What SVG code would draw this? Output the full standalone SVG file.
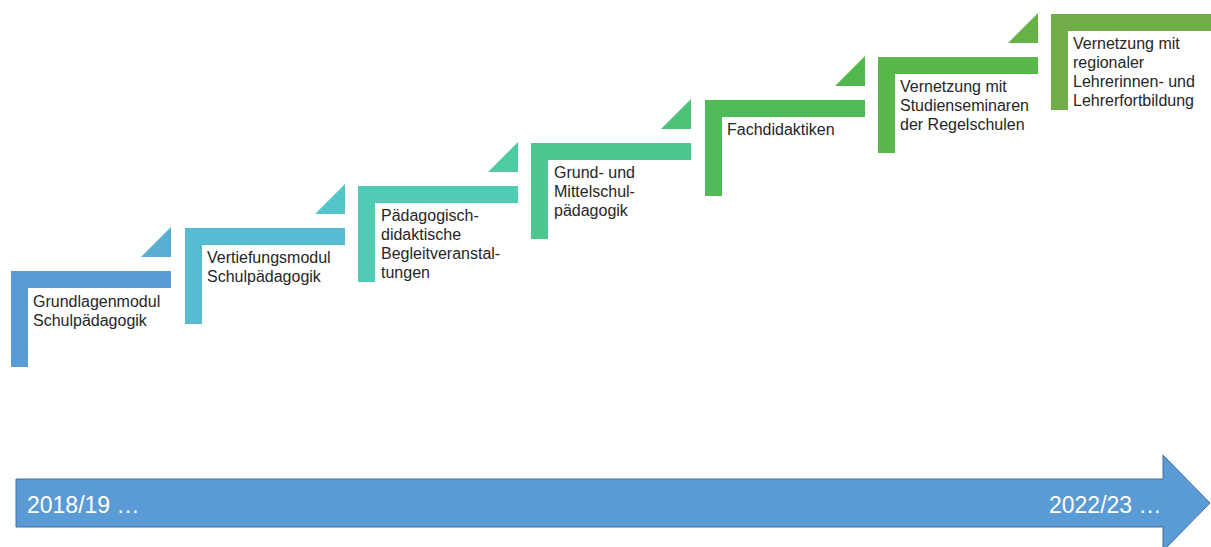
<svg xmlns="http://www.w3.org/2000/svg" width="1211" height="547" viewBox="0 0 1211 547">
<style>
.lbl{font-family:"Liberation Sans",Arial,sans-serif;font-size:16px;fill:#262626}
.yr{font-family:"Liberation Sans",Arial,sans-serif;font-size:23px;fill:#ffffff}
</style>
<rect width="1211" height="547" fill="#ffffff"/>
<g id="timeline">
<path d="M16 479 H1163 V455 L1210 503 L1163 551 V527 H16 Z" fill="#5B9BD5" stroke="#41719C" stroke-width="1"/>
<text class="yr" x="27" y="513">2018/19 …</text>
<text class="yr" x="1049" y="513">2022/23 …</text>
</g>
<g id="step1">
<path d="M11 271 H171 V288 H28 V367 H11 Z" fill="#5B9BD5"/>
<polygon points="141,257 171,257 171,227" fill="#59ADD3"/>
<text class="lbl" x="33" y="307">Grundlagenmodul</text>
<text class="lbl" x="33" y="326">Schulpädagogik</text>
</g>
<g id="step2">
<path d="M185 228 H345 V245 H202 V324 H185 Z" fill="#57BCD1"/>
<polygon points="315,214 345,214 345,184" fill="#54C5C8"/>
<text class="lbl" x="207" y="263">Vertiefungsmodul</text>
<text class="lbl" x="207" y="282">Schulpädagogik</text>
</g>
<g id="step3">
<path d="M358 186 H518 V203 H375 V282 H358 Z" fill="#50CBB4"/>
<polygon points="488,172 518,172 518,142" fill="#4ECBA3"/>
<text class="lbl" x="381" y="221">Pädagogisch-</text>
<text class="lbl" x="381" y="240">didaktische</text>
<text class="lbl" x="381" y="259">Begleitveranstal-</text>
<text class="lbl" x="381" y="278">tungen</text>
</g>
<g id="step4">
<path d="M531 143 H691 V160 H548 V239 H531 Z" fill="#4DC790"/>
<polygon points="661,129 691,129 691,99" fill="#4CC277"/>
<text class="lbl" x="554" y="178">Grund- und</text>
<text class="lbl" x="554" y="197">Mittelschul-</text>
<text class="lbl" x="554" y="216">pädagogik</text>
</g>
<g id="step5">
<path d="M705 100 H865 V117 H722 V196 H705 Z" fill="#4EBB58"/>
<polygon points="835,86 865,86 865,56" fill="#53B750"/>
<text class="lbl" x="727" y="135">Fachdidaktiken</text>
</g>
<g id="step6">
<path d="M878 57 H1038 V74 H895 V153 H878 Z" fill="#58B64B"/>
<polygon points="1008,43 1038,43 1038,13" fill="#66B247"/>
<text class="lbl" x="900" y="92">Vernetzung mit</text>
<text class="lbl" x="900" y="111">Studienseminaren</text>
<text class="lbl" x="900" y="130">der Regelschulen</text>
</g>
<g id="step7">
<path d="M1051 14 H1211 V31 H1068 V110 H1051 Z" fill="#70AD47"/>
<text class="lbl" x="1073" y="49">Vernetzung mit</text>
<text class="lbl" x="1073" y="68">regionaler</text>
<text class="lbl" x="1073" y="87">Lehrerinnen- und</text>
<text class="lbl" x="1073" y="106">Lehrerfortbildung</text>
</g>
</svg>
